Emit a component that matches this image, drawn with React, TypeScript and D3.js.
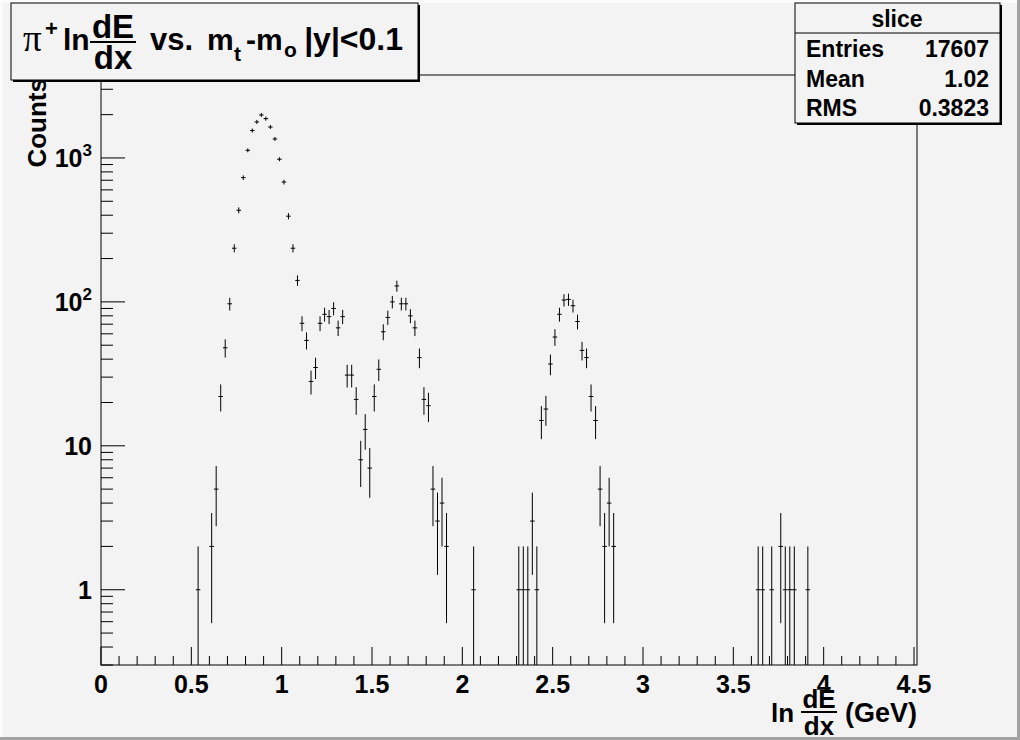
import React from "react";
import * as d3 from "d3";

// ---- data (bin centers in ln(dE/dx), counts) ----
const binCenters = [
  0.5375, 0.6125, 0.6375, 0.6625, 0.6875, 0.7125, 0.7375, 0.7625, 0.7875, 0.8125,
  0.8375, 0.8625, 0.8875, 0.9125, 0.9375, 0.9625, 0.9875, 1.0125, 1.0375, 1.0625,
  1.0875, 1.1125, 1.1375, 1.1625, 1.1875, 1.2125, 1.2375, 1.2625, 1.2875, 1.3125,
  1.3375, 1.3625, 1.3875, 1.4125, 1.4375, 1.4625, 1.4875, 1.5125, 1.5375, 1.5625,
  1.5875, 1.6125, 1.6375, 1.6625, 1.6875, 1.7125, 1.7375, 1.7625, 1.7875, 1.8125,
  1.8375, 1.8625, 1.8875, 1.9125, 2.0625, 2.3125, 2.3375, 2.3625, 2.3875, 2.4125,
  2.4375, 2.4625, 2.4875, 2.5125, 2.5375, 2.5625, 2.5875, 2.6125, 2.6375, 2.6625,
  2.6875, 2.7125, 2.7375, 2.7625, 2.7875, 2.8125, 2.8375, 3.6375, 3.6625, 3.7125,
  3.7625, 3.7875, 3.8125, 3.8375, 3.9125,
];
const counts = [
  1, 2, 5, 22, 48, 97, 236, 433, 730, 1130,
  1550, 1780, 1990, 1875, 1640, 1355, 980, 680, 394, 236,
  141, 71, 54, 28, 35, 71, 82, 79, 90, 66,
  79, 31, 31, 21, 8, 13, 7, 22, 34, 62,
  78, 100, 129, 97, 97, 80, 66, 41, 21, 19,
  5, 3, 4, 2, 1, 1, 1, 1, 3, 1,
  15, 18, 37, 57, 82, 103, 104, 94, 73, 46,
  41, 22, 15, 5, 2, 4, 2, 1, 1, 1,
  2, 1, 1, 1, 1,
];
const binWidth = 0.025;
const xTickLabels = ["0", "0.5", "1", "1.5", "2", "2.5", "3", "3.5", "4", "4.5"];
const yDecades = [1, 10, 100, 1000];
const statsLabels = ["Entries", "Mean", "RMS"];
const statsValues = ["17607", "1.02", "0.3823"];
const histName = "slice";

const W = 1020;
const H = 740;
const L = 101, R = 917, T = 75, B = 665;
const FONT = "'Liberation Sans', Arial, Helvetica, sans-serif";

export default function App() {
  const x = d3.scaleLinear().domain([0, 4.5166]).range([L, R]);
  const y = d3.scaleLog().domain([0.3, 3770]).range([B, T]);

  const xMajor = d3.range(0, 4.5001, 0.5);
  const xMinor = d3.range(0, 4.5001, 0.1).filter((v) => Math.abs(v / 0.5 - Math.round(v / 0.5)) > 1e-6);

  const yMinor: number[] = [];
  for (let k = -1; k <= 3; k++) {
    for (let m = 2; m <= 9; m++) {
      const v = m * Math.pow(10, k);
      if (v >= 0.3 && v <= 3770) yMinor.push(v);
    }
  }

  const [yMin] = y.domain();

  return (
    <svg
      width={W}
      height={H}
      style={{ position: "absolute", left: 0, top: 0, fontFamily: FONT }}
    >
      {/* canvas */}
      <rect x={0} y={0} width={W} height={H} fill="#f3f3f3" />
      <rect x={0} y={0} width={W} height={3} fill="#fbfbfb" />
      <rect x={0} y={0} width={3} height={H} fill="#fbfbfb" />
      <rect x={W - 3} y={0} width={3} height={H} fill="#a3a3a3" />
      <rect x={0} y={H - 3} width={W} height={3} fill="#a3a3a3" />

      {/* frame */}
      <rect x={L} y={T} width={R - L} height={B - T} fill="none" stroke="#000" strokeWidth={1} />

      {/* x axis ticks */}
      {xMajor.map((v, i) => (
        <line key={"xM" + i} x1={x(v)} x2={x(v)} y1={B} y2={B - 18} stroke="#000" />
      ))}
      {xMinor.map((v, i) => (
        <line key={"xm" + i} x1={x(v)} x2={x(v)} y1={B} y2={B - 9} stroke="#000" />
      ))}
      {xMajor.map((v, i) => (
        <text key={"xl" + i} x={x(v)} y={693} textAnchor="middle" fontSize={25} fontWeight="bold">
          {xTickLabels[i]}
        </text>
      ))}

      {/* y axis ticks */}
      {yDecades.map((v, i) => (
        <line key={"yM" + i} x1={L} x2={L + 24} y1={y(v)} y2={y(v)} stroke="#000" />
      ))}
      {yMinor.map((v, i) => (
        <line key={"ym" + i} x1={L} x2={L + 12} y1={y(v)} y2={y(v)} stroke="#000" />
      ))}
      {yDecades.map((v, i) => {
        const e = Math.round(Math.log10(v));
        const yy = y(v) + 9;
        if (e <= 1) {
          return (
            <text key={"yl" + i} x={92} y={yy} textAnchor="end" fontSize={25} fontWeight="bold">
              {String(v)}
            </text>
          );
        }
        return (
          <text key={"yl" + i} x={92} y={yy} textAnchor="end" fontSize={25} fontWeight="bold">
            10
            <tspan dy={-11} fontSize={17}>
              {String(e)}
            </tspan>
          </text>
        );
      })}

      {/* y title */}
      <text
        transform={`translate(46,78) rotate(-90)`}
        textAnchor="end"
        fontSize={26}
        fontWeight="bold"
      >
        Counts
      </text>

      {/* x title */}
      <g fontWeight="bold" fontSize={26}>
        <text x={771} y={722}>ln</text>
        <text x={819} y={708} textAnchor="middle">dE</text>
        <line x1={801} x2={837} y1={712} y2={712} stroke="#000" strokeWidth={2} />
        <text x={819} y={735} textAnchor="middle">dx</text>
        <text x={917} y={722} textAnchor="end" fontSize={27}>(GeV)</text>
      </g>

      {/* data: error bars */}
      <g stroke="#000" strokeWidth={1}>
        {binCenters.map((c, i) => {
          const v = counts[i];
          const err = Math.sqrt(v);
          const cx = x(c);
          const cy = y(v);
          const x1 = x(c - binWidth / 2);
          const x2 = x(c + binWidth / 2);
          const hi = Math.max(T, Math.min(y(v + err), cy - 2));
          const lo = v - err <= yMin ? B : Math.max(y(v - err), cy + 2);
          return (
            <g key={"p" + i}>
              <line x1={x1} x2={x2} y1={cy} y2={cy} />
              <line x1={cx} x2={cx} y1={hi} y2={lo} />
            </g>
          );
        })}
      </g>

      {/* title box */}
      <rect x={13} y={5} width={407} height={77} fill="#000" />
      <rect x={11} y={3} width={407} height={77} fill="#f3f3f3" stroke="#000" strokeWidth={1} />
      <g fontWeight="bold" fill="#000">
        <text x={23} y={51} fontSize={37} fontFamily="'Liberation Serif', 'DejaVu Serif', serif" fontWeight="normal">
          π
        </text>
        <text x={45} y={36} fontSize={22}>+</text>
        <text x={63} y={50} fontSize={30}>ln</text>
        <text x={113} y={38} fontSize={33} textAnchor="middle">dE</text>
        <line x1={90} x2={136} y1={42} y2={42} stroke="#000" strokeWidth={2} />
        <text x={113} y={69} fontSize={33} textAnchor="middle">dx</text>
        <text x={150} y={50} fontSize={31}>vs.</text>
        <text x={207} y={50} fontSize={30}>m</text>
        <text x={234} y={61} fontSize={21}>t</text>
        <text x={246} y={50} fontSize={30}>-m</text>
        <text x={284} y={57} fontSize={21}>o</text>
        <text x={403} y={50} fontSize={32} textAnchor="end">|y|&lt;0.1</text>
      </g>

      {/* stats box */}
      <rect x={797} y={5} width={205} height={120} fill="#000" />
      <rect x={795} y={3} width={205} height={120} fill="#f3f3f3" stroke="#000" strokeWidth={1} />
      <line x1={795} x2={1000} y1={33} y2={33} stroke="#000" />
      <g fontWeight="bold" fontSize={23}>
        <text x={897} y={27} textAnchor="middle">{histName}</text>
        {statsLabels.map((s, i) => (
          <text key={"sl" + i} x={806} y={57 + i * 29.5}>{s}</text>
        ))}
        {statsValues.map((s, i) => (
          <text key={"sv" + i} x={989} y={57 + i * 29.5} textAnchor="end">{s}</text>
        ))}
      </g>
    </svg>
  );
}
